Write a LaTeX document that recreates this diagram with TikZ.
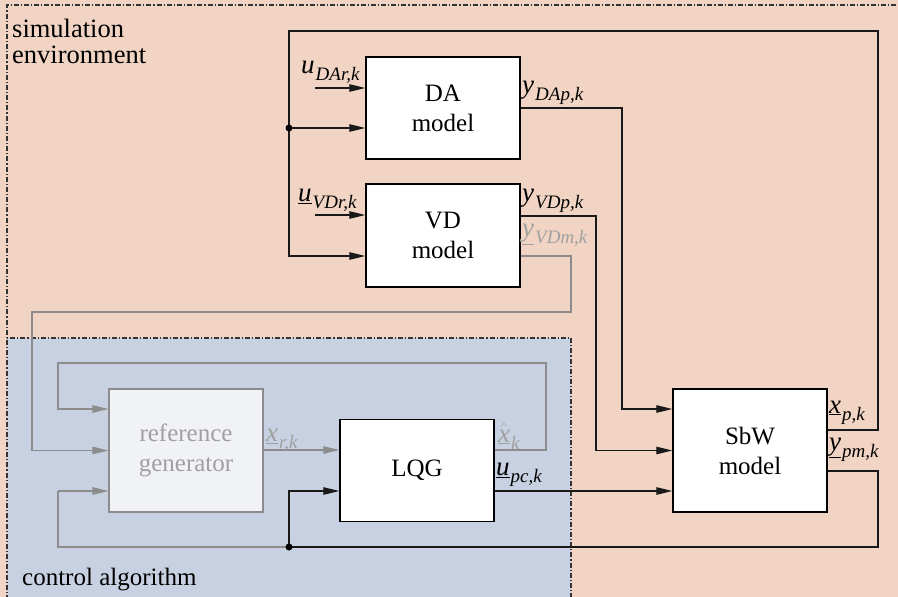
\documentclass[tikz,border=0pt]{standalone}
\usepackage{fontspec}
\setmainfont{Liberation Serif}
\usetikzlibrary{arrows.meta}

\definecolor{envfill}{HTML}{F1D4C3}
\definecolor{ctrlfill}{HTML}{C8D1E1}
\definecolor{rgfill}{HTML}{F1F2F6}
\definecolor{graylin}{HTML}{8C8C8C}
\definecolor{graytxt}{HTML}{A0A0A0}

% signal name with italic subscript
\newcommand\msub[2]{{\fontsize{27}{30}\selectfont\textit{#1}}\kern1pt\raisebox{-7pt}{\fontsize{19}{19}\selectfont\textit{#2}}}
% vector signal (underlined) with italic subscript
\newcommand\umsub[2]{{\fontsize{27}{30}\selectfont\underline{\textit{#1}}}\kern1pt\raisebox{-7pt}{\fontsize{19}{19}\selectfont\textit{#2}}}
% estimated state: underlined x with a hat
\newcommand\xhat{$\underline{\hat{\mbox{\fontsize{27}{30}\selectfont\textit{x}}}}$}

\begin{document}
\begin{tikzpicture}[x=1pt,y=-1pt,
  big/.style={font=\fontsize{25}{30}\selectfont},
  blk/.style={draw=black, line width=1.5pt, fill=white, minimum width=154pt,
    align=center, inner sep=0pt, big},
  conn/.style={line width=1.2pt, draw=black!90},
  arr/.style={conn, -{Triangle[length=16pt,width=7.5pt]}},
  gconn/.style={line width=1.1pt, draw=graylin},
  garr/.style={gconn, -{Triangle[length=16pt,width=7.5pt]}},
  dd/.style={line width=1.1pt, draw=black!80, dash pattern=on 5pt off 2pt on 1.2pt off 2pt},
  lbl/.style={anchor=base west, inner sep=0pt, big}]

\useasboundingbox (0,0) rectangle (898,597);

% regions
\fill[envfill] (0,0) rectangle (898,597);
\draw[dd] (7,600) -- (7,5) -- (900,5);
\fill[ctrlfill] (7,338) rectangle (571,600);
\draw[dd] (7,600) -- (7,338) -- (571,338) -- (571,600);

\node[lbl, font=\fontsize{26.5}{30}\selectfont] (envlbl) at (12,37) {simulation};
\node[lbl, font=\fontsize{26.5}{30}\selectfont] (envlbl2) at (12,63.5) {environment};
\node[lbl] (ctrllbl) at (22,585) {control algorithm};

% blocks
\node[blk, minimum height=102pt] (DA) at (443,108) {DA\\model};
\node[blk, minimum height=103pt] (VD) at (443,235.5) {VD\\model};
\node[blk, minimum height=123pt, fill=rgfill, draw=graylin, line width=1.1pt,
  text=graytxt] (RG) at (186,450.5) {reference\\generator};
\node[blk, minimum height=102pt] (LQG) at (417,470.5) {LQG};
\node[blk, minimum height=123pt] (SbW) at (750,450.5) {SbW\\model};

% feedback of the plant state to the driver models
\coordinate (uda) at (315,88);
\coordinate (uvd) at (315,215);
\coordinate (jT) at (289,128);
\coordinate (xpR) at (878,430);
\coordinate (topR) at (878,31);
\coordinate (topL) at (289,31);
\coordinate (vdL) at (289,256);
\draw[arr] (uda) -- (uda -| DA.west);
\draw[arr] (uvd) -- (uvd -| VD.west);
\draw[arr] (SbW.east |- xpR) -- (xpR) -- (topR) -- (topL) -- (vdL) -- (vdL -| VD.west);
\draw[arr] (jT) -- (jT -| DA.west);
\fill (jT) circle (3.5pt);

% driver model outputs to the plant
\coordinate (daR) at (622,108);
\coordinate (daD) at (622,409);
\draw[arr] (DA.east) -- (daR) -- (daD) -- (daD -| SbW.west);
\coordinate (vdo) at (520,216);
\coordinate (vdR) at (596,216);
\coordinate (vdD) at (596,450.5);
\draw[arr] (VD.east |- vdo) -- (vdR) -- (vdD) -- (SbW.west);

% measured driver signal to the reference generator
\coordinate (vmo) at (520,256);
\coordinate (vmR) at (571,256);
\coordinate (vmD) at (571,312);
\coordinate (vmL) at (32,312);
\coordinate (vmB) at (32,450.5);
\draw[garr] (VD.east |- vmo) -- (vmR) -- (vmD) -- (vmL) -- (vmB) -- (RG.west);

% estimated state back to the reference generator
\coordinate (xhR) at (546,450);
\coordinate (xhT) at (546,363);
\coordinate (xhL) at (58,363);
\coordinate (xhB) at (58,409);
\draw[garr] (LQG.east |- xhR) -- (xhR) -- (xhT) -- (xhL) -- (xhB) -- (xhB -| RG.west);

% reference to controller
\coordinate (xr) at (263,450);
\draw[garr] (RG.east |- xr) -- (xr -| LQG.west);

% control input to the plant
\coordinate (upc) at (494,491);
\draw[arr] (LQG.east |- upc) -- (upc -| SbW.west);

% measured plant output back to the controller
\coordinate (pmR) at (878,471);
\coordinate (pmB) at (878,547);
\coordinate (jB) at (289,547);
\coordinate (jBu) at (289,491);
\coordinate (pmL) at (58,547);
\coordinate (pmU) at (58,491);
\draw[gconn] (jB) -- (pmL) -- (pmU);
\draw[garr] (pmU) -- (pmU -| RG.west);
\draw[conn] (SbW.east |- pmR) -- (pmR) -- (pmB) -- (jB);
\draw[arr] (jB) -- (jBu) -- (jBu -| LQG.west);
\fill (jB) circle (3.5pt);

% signal labels
\node[lbl] (l1) at (301,73.3) {\msub{u}{DAr,k}};
\node[lbl] (l2) at (522,93.3) {\msub{y}{DAp,k}};
\node[lbl] (l3) at (298,201.7) {\umsub{u}{VDr,k}};
\node[lbl] (l4) at (522,201.7) {\msub{y}{VDp,k}};
\node[lbl, text=graytxt] (l5) at (522,236.7) {\umsub{y}{VDm,k}};
\node[lbl, text=graytxt] (l6) at (266,441.7) {\umsub{x}{r,k}};
\node[lbl, text=graytxt] (l7) at (498,442) {\xhat\kern1pt\raisebox{-7pt}{\fontsize{19}{19}\selectfont\textit{k}}};
\node[lbl] (l8) at (496,475) {\umsub{u}{pc,k}};
\node[lbl] (l9) at (829,413) {\umsub{x}{p,k}};
\node[lbl] (l10) at (829,450) {\umsub{y}{pm,k}};

\end{tikzpicture}
\end{document}
